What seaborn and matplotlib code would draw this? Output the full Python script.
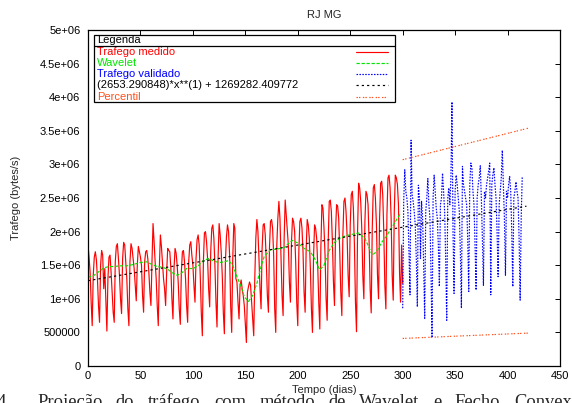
import numpy as np
import pandas as pd
import matplotlib
matplotlib.use("Agg")
import matplotlib.pyplot as plt
import seaborn as sns
from matplotlib.patches import Rectangle
from matplotlib.ticker import FuncFormatter, MultipleLocator

# Trafego medido (milhoes de bytes/s), dias 0..300, uma semana por linha
trafego_medido = [
    1.80, 1.62, 1.40, 0.95, 0.60, 1.35, 1.62,
    1.70, 1.58, 1.30, 0.90, 0.65, 1.50, 1.72,
    1.65, 1.15, 1.45, 1.00, 0.52, 1.30, 1.62,
    1.65, 1.40, 1.10, 0.80, 0.65, 1.55, 1.78,
    1.82, 1.60, 1.35, 1.00, 0.78, 1.60, 1.84,
    1.80, 1.55, 1.30, 0.85, 0.60, 1.55, 1.82,
    1.75, 1.60, 1.45, 1.20, 0.97, 1.50, 1.78,
    1.70, 1.62, 1.50, 1.05, 0.80, 1.55, 1.70,
    1.72, 1.60, 1.40, 1.10, 0.90, 1.55, 2.12,
    1.85, 1.55, 1.30, 0.90, 0.60, 1.45, 1.95,
    1.78, 1.55, 1.30, 1.15, 0.90, 1.40, 1.75,
    1.72, 1.70, 1.45, 1.00, 0.70, 1.45, 1.75,
    1.68, 1.50, 1.25, 0.85, 0.62, 1.40, 1.70,
    1.72, 1.55, 1.30, 0.90, 0.65, 1.55, 1.80,
    1.85, 1.65, 1.50, 1.20, 0.95, 1.60, 1.88,
    1.95, 1.80, 1.35, 0.80, 0.45, 1.55, 1.98,
    2.00, 1.85, 1.60, 1.15, 0.88, 1.70, 2.05,
    2.10, 1.90, 1.50, 0.95, 0.58, 1.60, 2.12,
    1.95, 1.70, 1.35, 0.80, 0.48, 1.55, 1.92,
    2.10, 2.00, 1.65, 0.90, 0.50, 1.60, 2.12,
    2.05, 1.30, 1.25, 0.95, 0.70, 1.20, 1.28,
    1.15, 1.05, 0.90, 0.62, 0.35, 1.10, 1.18,
    1.25, 1.20, 0.95, 0.70, 0.45, 1.30, 1.90,
    2.18, 2.00, 1.60, 1.15, 0.85, 1.75, 2.10,
    2.12, 1.95, 1.55, 1.05, 0.80, 1.75, 2.15,
    2.18, 2.05, 1.65, 0.85, 0.50, 1.80, 2.20,
    2.45, 2.20, 1.60, 1.05, 0.75, 1.90, 2.47,
    2.25, 2.05, 1.80, 1.25, 0.95, 1.85, 2.20,
    2.15, 2.00, 1.55, 0.95, 0.60, 1.70, 2.15,
    2.20, 2.05, 1.70, 1.10, 0.80, 1.75, 2.18,
    2.10, 1.90, 1.45, 0.85, 0.50, 1.60, 2.10,
    2.05, 1.90, 1.50, 0.95, 0.55, 1.75, 2.40,
    2.35, 2.05, 1.65, 1.00, 0.68, 1.85, 2.45,
    2.47, 2.30, 1.85, 1.25, 0.90, 2.00, 2.40,
    2.38, 2.20, 1.70, 1.10, 0.75, 1.95, 2.45,
    2.50, 2.30, 1.95, 1.35, 1.03, 2.10, 2.55,
    2.60, 2.35, 1.80, 0.95, 0.51, 2.00, 2.72,
    2.65, 2.45, 2.05, 1.35, 1.00, 2.15, 2.60,
    2.55, 2.40, 1.85, 1.15, 0.79, 2.05, 2.65,
    2.70, 2.50, 2.10, 1.35, 1.00, 2.20, 2.72,
    2.75, 2.55, 2.00, 1.20, 0.85, 2.25, 2.80,
    2.84, 2.65, 2.20, 1.35, 0.98, 2.30, 2.84,
    2.80, 2.70, 2.40, 1.40, 0.95, 1.80, 1.23,
]
dias_medido = np.arange(len(trafego_medido))

# Wavelet (curva suave)
wavelet_dias = [0, 5, 10, 15, 20, 25, 30, 37, 43, 50, 56, 61, 66, 71, 76, 80,
                85, 89, 94, 100, 105, 110, 115, 120, 125, 130, 134, 138, 142,
                146, 149, 153, 157, 161, 165, 168, 174, 180, 187, 191, 195,
                200, 206, 212, 216, 221, 225, 230, 235, 240, 246, 252, 258,
                264, 268, 271, 275, 280, 284, 288, 292, 295, 298]
wavelet_valores = [1.32, 1.34, 1.40, 1.46, 1.48, 1.48, 1.49, 1.49, 1.51, 1.54,
                   1.55, 1.51, 1.48, 1.47, 1.44, 1.39, 1.35, 1.38, 1.45, 1.45,
                   1.49, 1.57, 1.60, 1.56, 1.54, 1.55, 1.57, 1.50, 1.33, 1.18,
                   1.03, 0.96, 1.05, 1.23, 1.48, 1.63, 1.73, 1.74, 1.76, 1.82,
                   1.87, 1.83, 1.75, 1.70, 1.60, 1.43, 1.50, 1.72, 1.84, 1.90,
                   1.94, 1.96, 1.98, 1.90, 1.76, 1.65, 1.70, 1.84, 1.92, 2.02,
                   2.12, 2.20, 2.27]

# Trafego validado, dias 300..414
trafego_validado = [
    0.86, 2.45, 2.92, 2.60, 2.50, 2.30, 1.70,
    1.06, 3.36, 2.55, 2.45, 2.30, 2.10, 1.60,
    0.88, 2.69, 2.50, 1.60, 2.45, 2.20, 1.50,
    0.71, 2.30, 2.50, 2.79, 2.40, 2.20, 1.40,
    0.42, 2.50, 2.84, 2.60, 2.35, 2.20, 1.80,
    1.18, 2.40, 2.50, 2.87, 2.60, 2.30, 1.60,
    0.68, 2.50, 2.65, 2.40, 2.80, 3.93, 2.00,
    1.08, 2.60, 2.84, 2.70, 2.50, 2.30, 1.70,
    0.86, 2.97, 2.70, 2.60, 2.50, 2.40, 1.90,
    1.11, 2.70, 3.02, 2.95, 2.60, 2.40, 1.80,
    1.13, 2.50, 2.70, 2.80, 2.98, 2.50, 1.90,
    1.20, 2.60, 2.50, 2.70, 2.80, 2.90, 3.02,
    1.06, 2.70, 2.85, 2.95, 2.70, 2.50, 2.00,
    1.33, 2.40, 2.60, 2.80, 3.21, 2.70, 2.20,
    1.35, 2.60, 2.50, 2.70, 2.82, 2.60, 2.00,
    1.18, 2.50, 2.60, 2.74, 2.60, 2.50, 1.90,
    0.98, 2.20, 2.82,
]
dias_validado = np.arange(300, 300 + len(trafego_validado))

# Ajuste linear (extremos)
ajuste_dias = [0, 418]
ajuste_valores = [1269282.409772, 2378357.98]
ajuste_label = "(2653.290848)*x**(1) + 1269282.409772"

# Percentil superior e inferior
percentil_dias = [300, 420]
percentil_sup = [3.07, 3.54]
percentil_inf = [0.41, 0.49]

legenda_figura = "Projeção do tráfego com método de Wavelet e Fecho Convexo"

sns.set_style("white")
plt.rcParams['font.family'] = ['Liberation Sans', 'DejaVu Sans']
plt.rcParams['lines.scale_dashes'] = False

fig, ax = plt.subplots(figsize=(5.72, 4.03), dpi=100)
fig.subplots_adjust(left=88/572, right=560/572, top=1-30/403, bottom=1-366/403)

RED, GREEN, BLUE, ORANGE = '#ff0000', '#00e600', '#0000ff', '#ff4f1a'
lw = 0.85

df_med = pd.DataFrame({'dia': dias_medido, 'v': np.array(trafego_medido) * 1e6})
df_wav = pd.DataFrame({'dia': wavelet_dias, 'v': np.array(wavelet_valores) * 1e6})
df_val = pd.DataFrame({'dia': dias_validado, 'v': np.array(trafego_validado) * 1e6})
df_fit = pd.DataFrame({'dia': ajuste_dias, 'v': ajuste_valores})
df_ps = pd.DataFrame({'dia': percentil_dias, 'v': np.array(percentil_sup) * 1e6})
df_pi = pd.DataFrame({'dia': percentil_dias, 'v': np.array(percentil_inf) * 1e6})

styles = {
    'med': dict(color=RED, linestyle='-'),
    'wav': dict(color=GREEN, linestyle=(0, (2.4, 1.2))),
    'val': dict(color=BLUE, linestyle=(0, (1.1, 1.0))),
    'fit': dict(color='black', linestyle=(0, (1.6, 2.2))),
    'per': dict(color=ORANGE, linestyle=(0, (1.0, 0.8, 1.0, 1.8))),
}

sns.lineplot(data=df_med, x='dia', y='v', ax=ax, lw=lw, **styles['med'])
sns.lineplot(data=df_wav, x='dia', y='v', ax=ax, lw=lw, **styles['wav'])
sns.lineplot(data=df_val, x='dia', y='v', ax=ax, lw=lw, **styles['val'])
sns.lineplot(data=df_fit, x='dia', y='v', ax=ax, lw=lw, **styles['fit'])
sns.lineplot(data=df_ps, x='dia', y='v', ax=ax, lw=lw, **styles['per'])
sns.lineplot(data=df_pi, x='dia', y='v', ax=ax, lw=lw, **styles['per'])

ax.set_xlim(0, 450)
ax.set_ylim(0, 5e6)
ax.xaxis.set_major_locator(MultipleLocator(50))
ax.yaxis.set_major_locator(MultipleLocator(5e5))
ax.yaxis.set_major_formatter(FuncFormatter(lambda v, p: '%g' % v))
ax.tick_params(direction='in', length=3.3, width=0.7, top=True, right=True,
               labelsize=8, colors='black', pad=3.5)
ax.tick_params(axis='y', pad=5.5)
for s in ax.spines.values():
    s.set_color('black')
    s.set_linewidth(0.9)

ax.set_title('RJ MG', fontsize=8, pad=9)
ax.set_xlabel('Tempo (dias)', fontsize=8)
ax.set_ylabel('Trafego (bytes/s)', fontsize=8)
ax.xaxis.set_label_coords(0.5, -0.058)
ax.yaxis.set_label_coords(-0.141, 0.5)

# Legenda no estilo do gnuplot
x0, x1, yt, yb = 0.0127, 0.650, 0.985, 0.786
ax.add_patch(Rectangle((x0, yb), x1 - x0, yt - yb, transform=ax.transAxes,
                       fill=False, edgecolor='black', lw=0.9, zorder=5))
ax.plot([x0, x1], [0.952, 0.952], transform=ax.transAxes, color='black',
        lw=0.9, zorder=5)
ax.text(0.019, 0.969, 'Legenda', transform=ax.transAxes, fontsize=8,
        va='center', ha='left', color='black')
entradas = [
    ('Trafego medido', RED, 'med'),
    ('Wavelet', GREEN, 'wav'),
    ('Trafego validado', BLUE, 'val'),
    (ajuste_label, 'black', 'fit'),
    ('Percentil', ORANGE, 'per'),
]
linhas_y = [0.934, 0.903, 0.869, 0.835, 0.801]
for (txt, cor, key), yy in zip(entradas, linhas_y):
    ax.text(0.019, yy, txt, transform=ax.transAxes, fontsize=8,
            va='center', ha='left', color=cor)
    ax.plot([0.568, 0.636], [yy, yy], transform=ax.transAxes, lw=lw,
            **styles[key])

# Legenda da figura (texto justificado, cortado na borda inferior)
serif = ['Liberation Serif', 'DejaVu Serif']
base_y = -0.0105
fig.text(6/572, base_y, 'Figura 4', fontsize=13.3, ha='right', va='baseline',
         family=serif)
renderer = fig.canvas.get_renderer()
xpos = 37.0
for palavra in legenda_figura.split():
    t = fig.text(xpos / 572, base_y, palavra, fontsize=13.3, ha='left',
                 va='baseline', family=serif)
    xpos = t.get_window_extent(renderer).x1 + 13.5

fig.savefig('out.png', dpi=100)
